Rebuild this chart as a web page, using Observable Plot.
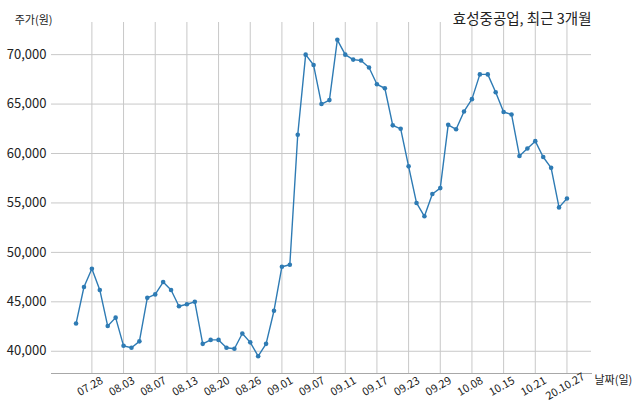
<!DOCTYPE html>
<html>
<head>
<meta charset="utf-8">
<script src="https://cdn.jsdelivr.net/npm/d3@7"></script>
<script src="https://cdn.jsdelivr.net/npm/@observablehq/plot@0.6"></script>
<style>
  html, body { margin: 0; padding: 0; background: white; }
</style>
</head>
<body>
<div id="chart"></div>
<script>
const dates = ["07.24","07.27","07.28","07.29","07.30","07.31","08.03","08.04","08.05","08.06",
  "08.07","08.10","08.11","08.12","08.13","08.14","08.18","08.19","08.20","08.21",
  "08.24","08.25","08.26","08.27","08.28","08.31","09.01","09.02","09.03","09.04",
  "09.07","09.08","09.09","09.10","09.11","09.14","09.15","09.16","09.17","09.18",
  "09.21","09.22","09.23","09.24","09.25","09.28","09.29","10.05","10.06","10.07",
  "10.08","10.12","10.13","10.14","10.15","10.16","10.19","10.20","10.21","10.22",
  "10.23","10.26","10.27"];
const prices = [42800,46500,48350,46200,42550,43400,40550,40350,41000,45400,
  45750,47000,46200,44550,44750,45000,40750,41150,41150,40350,
  40250,41800,40900,39500,40750,44100,48550,48750,61900,70000,
  68950,65000,65400,71500,70000,69500,69400,68700,67000,66600,
  62850,62500,58700,55000,53650,55900,56500,62900,62450,64250,
  65500,68000,68000,66200,64200,63950,59750,60500,61250,59650,
  58550,54550,55450];
const tickDates = ["07.28","08.03","08.07","08.13","08.20","08.26","09.01","09.07",
  "09.11","09.17","09.23","09.29","10.08","10.15","10.21","10.27"];
const tickLabels = ["07.28","08.03","08.07","08.13","08.20","08.26","09.01","09.07",
  "09.11","09.17","09.23","09.29","10.08","10.15","10.21","20.10.27"];
const yTicks = [40000,45000,50000,55000,60000,65000,70000];
const title = "효성중공업, 최근 3개월";
const yLabel = "주가(원)";
const xLabel = "날짜(일)";

const data = prices.map((p, i) => ({i, date: dates[i], price: p}));
const tickIdx = tickDates.map(d => dates.indexOf(d));
const color = "#2e7bb4";

const chart = Plot.plot({
  width: 640,
  height: 414,
  marginLeft: 51,
  marginRight: 49,
  marginTop: 22,
  marginBottom: 41,
  style: {fontFamily: "'Noto Sans CJK KR', 'Noto Sans', sans-serif", background: "white", color: "#222"},
  x: {type: "linear", domain: [-3.1, 65.1], axis: null},
  y: {domain: [37750, 73250], axis: null},
  marks: [
    Plot.gridX(tickIdx, {stroke: "#c8c8c8", strokeOpacity: 1, strokeWidth: 1}),
    Plot.gridY(yTicks, {stroke: "#c8c8c8", strokeOpacity: 1, strokeWidth: 1}),
    Plot.frame({anchor: "bottom", stroke: "#a8a8a8"}),
    Plot.axisY(yTicks, {tickSize: 0, tickPadding: 5, tickFormat: d3.format(","), fontSize: 13, label: null}),
    Plot.text(tickIdx, {x: d => d, frameAnchor: "bottom", dy: 16, rotate: -30, textAnchor: "middle",
      text: (d, k) => tickLabels[k], fontSize: 11}),
    Plot.line(data, {x: "i", y: "price", stroke: color, strokeWidth: 1.4}),
    Plot.dot(data, {x: "i", y: "price", r: 2.3, fill: color, stroke: null}),
    Plot.text([title], {frameAnchor: "top-right", text: d => d, dy: -9, textAnchor: "end", fontSize: 14.5}),
    Plot.text([yLabel], {frameAnchor: "top-left", text: d => d, dx: 1, dy: -6, textAnchor: "end", fontSize: 11}),
    Plot.text([xLabel], {frameAnchor: "bottom-right", text: d => d, dx: 3, dy: 10, textAnchor: "start", fontSize: 11})
  ]
});
document.getElementById("chart").appendChild(chart);
</script>
</body>
</html>
